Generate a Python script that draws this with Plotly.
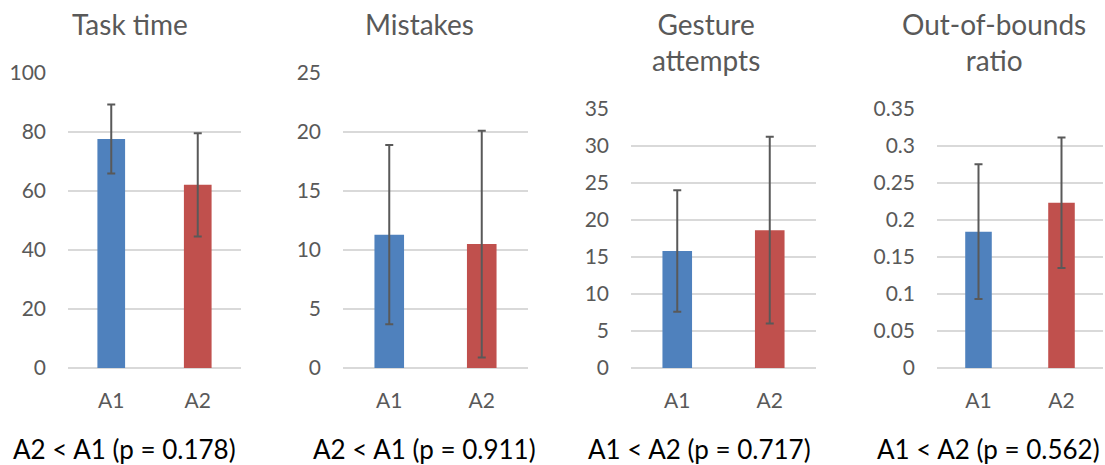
import plotly.graph_objects as go

W, H = 1105, 465

categories = ["A1", "A2"]
panel_titles = ["Task time", "Mistakes", "Gesture<br>attempts", "Out-of-bounds<br>ratio"]
bottom_labels = ["A2 < A1 (p = 0.178)", "A2 < A1 (p = 0.911)",
                 "A1 < A2 (p = 0.717)", "A1 < A2 (p = 0.562)"]

task_time_mean = [77.6, 62.1]
task_time_err = [11.7, 17.5]
mistakes_mean = [11.3, 10.5]
mistakes_err = [7.6, 9.6]
gesture_mean = [15.8, 18.6]
gesture_err = [8.2, 12.6]
oob_mean = [0.184, 0.223]
oob_err = [0.091, 0.088]

y_ranges = [[0, 100], [0, 25], [0, 35], [0, 0.35]]
y_dticks = [20, 5, 5, 0.05]

means = [task_time_mean, mistakes_mean, gesture_mean, oob_mean]
errs = [task_time_err, mistakes_err, gesture_err, oob_err]

bar_colors = ["#4F81BD", "#C0504D"]

# layout in pixels
x_px = [(68, 241), (343, 528), (631, 816), (937, 1103)]
y_top_px = [73, 73, 108.7, 108.7]
y_bot_px = 368
title_cx = [130, 419, 706, 993.5]
title_cy = [24, 24, 42, 42]
bottom_cx = [124, 424.5, 699, 988]
bottom_cy = 449

fig = go.Figure()
grey = "#595959"
font_fam = "Lato"

for i in range(4):
    ax = "" if i == 0 else str(i + 1)
    fig.add_trace(go.Bar(
        x=categories, y=means[i],
        marker=dict(color=bar_colors, line=dict(width=0)),
        error_y=dict(type="data", array=errs[i], color=grey, thickness=2, width=4),
        xaxis="x" + ax, yaxis="y" + ax, showlegend=False,
    ))
    x0, x1 = x_px[i]
    fig.layout["xaxis" + ax] = dict(
        domain=[x0 / W, x1 / W], anchor="y" + ax,
        showgrid=False, zeroline=False, showline=False, ticks="",
        tickfont=dict(family=font_fam, size=21, color=grey),
        ticklabelstandoff=18, fixedrange=True, automargin=False,
    )
    fig.layout["yaxis" + ax] = dict(
        domain=[1 - y_bot_px / H, 1 - y_top_px[i] / H], anchor="x" + ax,
        range=y_ranges[i], dtick=y_dticks[i], tick0=0,
        showgrid=True, gridcolor="#D9D9D9", gridwidth=1.5,
        zeroline=True, zerolinecolor="#D9D9D9", zerolinewidth=1.5,
        showline=False, ticks="",
        tickfont=dict(family=font_fam, size=21, color=grey),
        ticklabelstandoff=21, fixedrange=True, automargin=False,
    )
    fig.add_annotation(
        text=panel_titles[i], x=title_cx[i] / W, y=1 - title_cy[i] / H,
        xref="paper", yref="paper", showarrow=False,
        font=dict(family=font_fam, size=28, color=grey),
        xanchor="center", yanchor="middle",
    )
    fig.add_annotation(
        text=bottom_labels[i], x=bottom_cx[i] / W, y=1 - bottom_cy / H,
        xref="paper", yref="paper", showarrow=False,
        font=dict(family=font_fam, size=26, color="#000000"),
        xanchor="center", yanchor="middle",
    )

fig.update_layout(
    width=W, height=H, margin=dict(l=0, r=0, t=0, b=0, pad=0),
    paper_bgcolor="white", plot_bgcolor="white",
    bargap=0.68,
)

fig.write_html("out.html", post_script="document.body.style.margin='0';",
               config={"displayModeBar": False})
